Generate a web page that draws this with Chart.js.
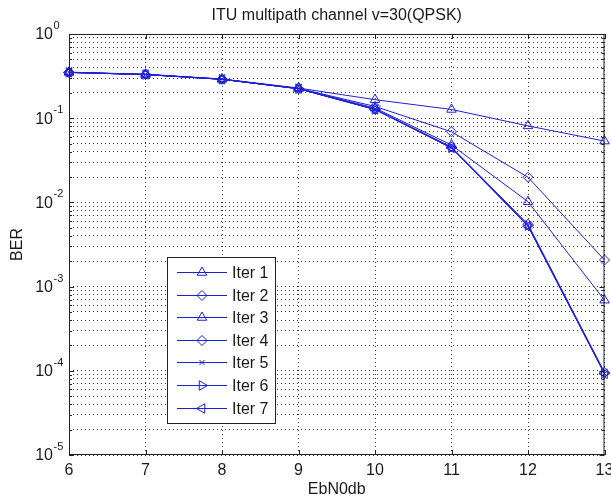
<!DOCTYPE html>
<html><head><meta charset="utf-8">
<script src="https://cdn.jsdelivr.net/npm/chart.js@4/dist/chart.umd.min.js"></script>
<style>html,body{margin:0;padding:0;background:#fff;}#wrap{width:611px;height:502px;}</style>
</head><body><div id="wrap"><canvas id="c" width="611" height="502"></canvas></div>
<script>
// ---- data ----
const ebn0 = [6, 7, 8, 9, 10, 11, 12, 13];
const iter1 = [0.352, 0.333, 0.292, 0.228, 0.166, 0.127, 0.081, 0.0535];
const iter2 = [0.350, 0.331, 0.291, 0.226, 0.138, 0.069, 0.0199, 0.00207];
const iter3 = [0.350, 0.330, 0.290, 0.225, 0.132, 0.048, 0.0102, 0.00069];
const iter4 = [0.350, 0.330, 0.290, 0.224, 0.128, 0.0455, 0.0055, 0.000096];
const iter5 = [0.350, 0.330, 0.290, 0.224, 0.127, 0.0445, 0.0053, 0.000093];
const iter6 = [0.350, 0.330, 0.290, 0.224, 0.127, 0.0445, 0.0053, 0.000093];
const iter7 = [0.350, 0.330, 0.290, 0.224, 0.127, 0.0443, 0.0052, 0.000092];
const seriesNames = ['Iter 1', 'Iter 2', 'Iter 3', 'Iter 4', 'Iter 5', 'Iter 6', 'Iter 7'];
const xTickLabels = ['6', '7', '8', '9', '10', '11', '12', '13'];
const yDecades = [1e-5, 1e-4, 1e-3, 1e-2, 1e-1, 1];
const yDecadeExps = ['-5', '-4', '-3', '-2', '-1', '0'];
const titleText = 'ITU multipath channel v=30(QPSK)';
const xTitle = 'EbN0db';
const yTitle = 'BER';

// ---- styles ----
const allSeries = [iter1, iter2, iter3, iter4, iter5, iter6, iter7];
const markerStyles = [
  {style: 'triangle', rot: 0, r: 5.5},
  {style: 'rectRot', rot: 0, r: 5},
  {style: 'triangle', rot: 0, r: 5.5},
  {style: 'rectRot', rot: 0, r: 5},
  {style: 'crossRot', rot: 0, r: 3.5},
  {style: 'triangle', rot: 90, r: 5.5},
  {style: 'triangle', rot: -90, r: 5.5}
];
const BLUE = '#1f1fd6';
const FONT = '"Liberation Sans", Arial, sans-serif';
const TXT = '#1a1a1a';

const datasets = allSeries.map((s, i) => ({
  label: seriesNames[i],
  data: ebn0.map((x, j) => ({x: x, y: s[j]})),
  borderColor: BLUE,
  borderWidth: 1,
  pointStyle: markerStyles[i].style,
  pointRotation: markerStyles[i].rot,
  pointRadius: markerStyles[i].r,
  pointHoverRadius: markerStyles[i].r,
  pointBorderColor: BLUE,
  pointBackgroundColor: 'rgba(0,0,0,0)',
  pointBorderWidth: 1,
  tension: 0,
  fill: false,
  clip: false
}));

const yTickValues = [];
yDecades.forEach((d, i) => {
  yTickValues.push(d);
  if (i < yDecades.length - 1) for (let m = 2; m <= 9; m++) yTickValues.push(+(d * m).toPrecision(3));
});

const GRID = 'rgba(0,0,0,0.8)';

const decor = {
  id: 'decor',
  afterDraw(chart) {
    const ctx = chart.ctx;
    const a = chart.chartArea;
    const xs = chart.scales.x, ys = chart.scales.y;
    ctx.save();
    // box
    ctx.strokeStyle = '#222';
    ctx.lineWidth = 1;
    ctx.strokeRect(a.left + 0.5, a.top + 0.5, a.right - a.left - 1, a.bottom - a.top - 1);
    // ticks
    ctx.beginPath();
    ebn0.forEach(v => {
      const px = Math.round(xs.getPixelForValue(v)) + 0.5;
      ctx.moveTo(px, a.bottom); ctx.lineTo(px, a.bottom - 5);
      ctx.moveTo(px, a.top); ctx.lineTo(px, a.top + 5);
    });
    yTickValues.forEach(v => {
      const py = Math.round(ys.getPixelForValue(v)) + 0.5;
      const len = yDecades.includes(v) ? 5 : 3;
      ctx.moveTo(a.left, py); ctx.lineTo(a.left + len, py);
      ctx.moveTo(a.right, py); ctx.lineTo(a.right - len, py);
    });
    ctx.stroke();
    // y tick labels
    ctx.fillStyle = TXT;
    yDecades.forEach((v, i) => {
      const py = ys.getPixelForValue(v);
      ctx.font = '16px ' + FONT;
      ctx.textAlign = 'right'; ctx.textBaseline = 'middle';
      ctx.fillText('10', 53, py + 1);
      ctx.font = '11px ' + FONT;
      ctx.textAlign = 'left';
      ctx.fillText(yDecadeExps[i], 53.5, py - 8);
    });
    // x tick labels
    ctx.font = '16px ' + FONT;
    ctx.textAlign = 'center'; ctx.textBaseline = 'middle';
    ebn0.forEach((v, i) => {
      ctx.fillText(xTickLabels[i], xs.getPixelForValue(v), 471);
    });
    // axis titles
    ctx.fillText(xTitle, (a.left + a.right) / 2, 490);
    ctx.save();
    ctx.translate(18, (a.top + a.bottom) / 2);
    ctx.rotate(-Math.PI / 2);
    ctx.fillText(yTitle, 0, 0);
    ctx.restore();
    // title
    ctx.fillText(titleText, (a.left + a.right) / 2, 16);
    // legend
    const lx = 167, ly = 257, lw = 108, lh = 166;
    ctx.fillStyle = '#fff';
    ctx.fillRect(lx, ly, lw, lh);
    ctx.strokeStyle = '#222';
    ctx.strokeRect(lx + 0.5, ly + 0.5, lw, lh);
    seriesNames.forEach((name, i) => {
      const y = Math.round(272 + i * 22.6) + 0.5;
      ctx.strokeStyle = BLUE; ctx.lineWidth = 1;
      ctx.beginPath(); ctx.moveTo(177, y); ctx.lineTo(227, y); ctx.stroke();
      ctx.fillStyle = 'rgba(0,0,0,0)';
      if (Chart.helpers && Chart.helpers.drawPoint) {
        Chart.helpers.drawPoint(ctx, {pointStyle: markerStyles[i].style, rotation: markerStyles[i].rot, radius: markerStyles[i].r, borderWidth: 1}, 202, y);
      }
      ctx.fillStyle = TXT;
      ctx.font = '16px ' + FONT;
      ctx.textAlign = 'left'; ctx.textBaseline = 'middle';
      ctx.fillText(name, 232, y + 1);
    });
    ctx.restore();
  }
};

new Chart(document.getElementById('c'), {
  type: 'line',
  data: {datasets: datasets},
  options: {
    responsive: false,
    animation: false,
    devicePixelRatio: 1,
    layout: {padding: {left: 69, right: 2, top: 34, bottom: 47}},
    plugins: {legend: {display: false}, title: {display: false}, tooltip: {enabled: false}},
    scales: {
      x: {
        type: 'linear', min: 6, max: 13,
        afterBuildTicks: s => { s.ticks = ebn0.map(v => ({value: v})); },
        afterFit: s => { s.height = 0; },
        ticks: {display: false},
        grid: {color: GRID, lineWidth: 1, drawTicks: false},
        border: {display: false, dash: [1, 3]},
        title: {display: false}
      },
      y: {
        type: 'logarithmic', min: 1e-5, max: 1,
        afterBuildTicks: s => { s.ticks = yTickValues.map(v => ({value: v})); },
        afterFit: s => { s.width = 0; },
        ticks: {display: false},
        grid: {color: GRID, lineWidth: 1, drawTicks: false},
        border: {display: false, dash: [1, 3]},
        title: {display: false}
      }
    }
  },
  plugins: [decor]
});
</script>
</body></html>
